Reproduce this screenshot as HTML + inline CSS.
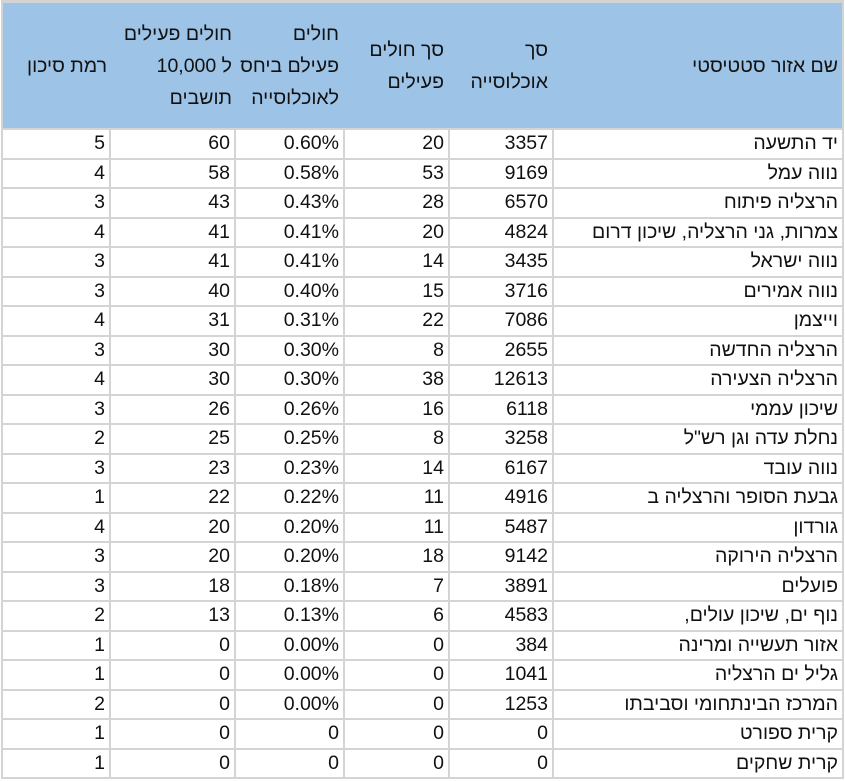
<!DOCTYPE html>
<html><head><meta charset="utf-8"><style>
body{margin:0;width:845px;height:781px;background:#fff;overflow:hidden;position:relative}
.g{position:absolute;left:1px;top:0;width:839px;padding:3px 2px 2px 2px;background:#d4d4d4;display:grid;direction:rtl;
grid-template-columns:288px 102px 103px 107px 123px 106px;grid-template-rows:125px repeat(22,27.5px);gap:2px;
font-family:"Liberation Sans","DejaVu Sans",sans-serif;font-size:19.5px;color:#111}
.g div{background:#fff;text-align:right;padding-right:4px;display:flex;align-items:center;justify-content:flex-start;white-space:nowrap;overflow:hidden}
.g .h{background:#9dc3e6;line-height:32px;white-space:normal;padding-right:4px;overflow:visible}
.g .h span{display:block}
.bar{position:absolute;left:3px;top:3px;width:839px;height:125px;background:#9dc3e6}
.hd{position:absolute;top:3px;height:125px;display:flex;align-items:center;justify-content:flex-end;text-align:right;direction:rtl;
font-family:"Liberation Sans","DejaVu Sans",sans-serif;font-size:19.5px;line-height:32px;color:#111;white-space:nowrap}
</style></head><body><div class="g">
<div class="h"></div><div class="h"></div><div class="h"></div><div class="h"></div><div class="h"></div><div class="h"></div>
<div>יד התשעה</div><div>3357</div><div>20</div><div>0.60%</div><div>60</div><div>5</div>
<div>נווה עמל</div><div>9169</div><div>53</div><div>0.58%</div><div>58</div><div>4</div>
<div>הרצליה פיתוח</div><div>6570</div><div>28</div><div>0.43%</div><div>43</div><div>3</div>
<div>צמרות, גני הרצליה, שיכון דרום</div><div>4824</div><div>20</div><div>0.41%</div><div>41</div><div>4</div>
<div>נווה ישראל</div><div>3435</div><div>14</div><div>0.41%</div><div>41</div><div>3</div>
<div>נווה אמירים</div><div>3716</div><div>15</div><div>0.40%</div><div>40</div><div>3</div>
<div>וייצמן</div><div>7086</div><div>22</div><div>0.31%</div><div>31</div><div>4</div>
<div>הרצליה החדשה</div><div>2655</div><div>8</div><div>0.30%</div><div>30</div><div>3</div>
<div>הרצליה הצעירה</div><div>12613</div><div>38</div><div>0.30%</div><div>30</div><div>4</div>
<div>שיכון עממי</div><div>6118</div><div>16</div><div>0.26%</div><div>26</div><div>3</div>
<div>נחלת עדה וגן רש"ל</div><div>3258</div><div>8</div><div>0.25%</div><div>25</div><div>2</div>
<div>נווה עובד</div><div>6167</div><div>14</div><div>0.23%</div><div>23</div><div>3</div>
<div>גבעת הסופר והרצליה ב</div><div>4916</div><div>11</div><div>0.22%</div><div>22</div><div>1</div>
<div>גורדון</div><div>5487</div><div>11</div><div>0.20%</div><div>20</div><div>4</div>
<div>הרצליה הירוקה</div><div>9142</div><div>18</div><div>0.20%</div><div>20</div><div>3</div>
<div>פועלים</div><div>3891</div><div>7</div><div>0.18%</div><div>18</div><div>3</div>
<div>נוף ים, שיכון עולים,</div><div>4583</div><div>6</div><div>0.13%</div><div>13</div><div>2</div>
<div>אזור תעשייה ומרינה</div><div>384</div><div>0</div><div>0.00%</div><div>0</div><div>1</div>
<div>גליל ים הרצליה</div><div>1041</div><div>0</div><div>0.00%</div><div>0</div><div>1</div>
<div>המרכז הבינתחומי וסביבתו</div><div>1253</div><div>0</div><div>0.00%</div><div>0</div><div>2</div>
<div>קרית ספורט</div><div>0</div><div>0</div><div>0</div><div>0</div><div>1</div>
<div>קרית שחקים</div><div>0</div><div>0</div><div>0</div><div>0</div><div>1</div>
</div>
<div class="bar"></div>
<div class="hd" style="right:7px">שם אזור סטטיסטי</div>
<div class="hd" style="right:297px">סך<br>אוכלוסייה</div>
<div class="hd" style="right:401px">סך חולים<br>פעילים</div>
<div class="hd" style="right:506px">חולים<br>פעילם ביחס<br>לאוכלוסייה</div>
<div class="hd" style="right:613px">חולים פעילים<br>ל 10,000<br>תושבים</div>
<div class="hd" style="right:738px">רמת סיכון</div>
</body></html>
